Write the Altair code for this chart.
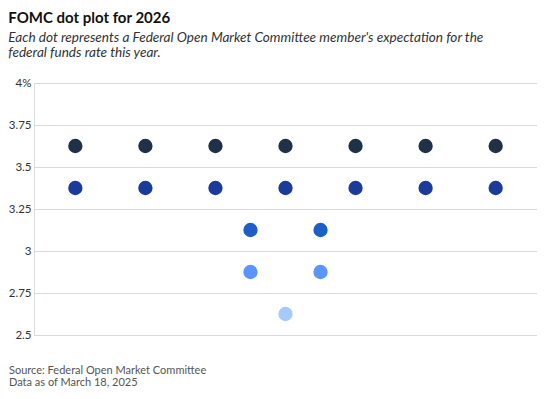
import altair as alt
import pandas as pd

# Data
rates = [3.625] * 7 + [3.375] * 7 + [3.125] * 2 + [2.875] * 2 + [2.625]
positions = [1, 2, 3, 4, 5, 6, 7,
             1, 2, 3, 4, 5, 6, 7,
             3.5, 4.5,
             3.5, 4.5,
             4]
rate_levels = [3.625, 3.375, 3.125, 2.875, 2.625]
level_colors = ["#1f3149", "#1b3b9b", "#1b5fc7", "#5b95fc", "#a5cafe"]
y_ticks = [2.5, 2.75, 3, 3.25, 3.5, 3.75, 4]
source_lines = ["Source: Federal Open Market Committee", "Data as of March 18, 2025"]

FONT = "Lato"

df = pd.DataFrame({"pos": positions, "rate": rates})

dots = alt.Chart(df).mark_circle(size=205, opacity=1).encode(
    x=alt.X("pos:Q", scale=alt.Scale(domain=[0.41, 7.59], nice=False), axis=None),
    y=alt.Y(
        "rate:Q",
        scale=alt.Scale(domain=[2.5, 4], nice=False, zero=False),
        axis=alt.Axis(
            values=y_ticks,
            title=None,
            domain=False,
            ticks=False,
            labelPadding=3,
            labelFontSize=11.5,
            labelColor="#333333",
            labelFont=FONT,
            gridColor="#d9d9d9",
            gridWidth=1,
            labelExpr="datum.value == 4 ? '4%' : format(datum.value, '~g')",
        ),
    ),
    color=alt.Color(
        "rate:O",
        scale=alt.Scale(domain=rate_levels, range=level_colors),
        legend=None,
    ),
)

src = pd.DataFrame({"line": source_lines, "i": [0, 1]})
source = alt.Chart(src).transform_calculate(
    yy="291 + 12 * datum.i"
).mark_text(
    align="left", baseline="alphabetic", fontSize=11, font=FONT, color="#555555"
).encode(
    text="line:N",
    x=alt.value(-25),
    y=alt.Y("yy:Q", scale=None, axis=None),
)

chart = alt.layer(dots, source).resolve_scale(y="independent").properties(
    width=503,
    height=252,
    padding={"left": 0, "top": 3, "right": 0, "bottom": 0},
    title=alt.TitleParams(
        text="FOMC dot plot for 2026",
        subtitle=[
            "Each dot represents a Federal Open Market Committee member's expectation for the",
            "federal funds rate this year.",
        ],
        anchor="start",
        frame="bounds",
        font=FONT,
        fontSize=15,
        fontWeight="bold",
        color="#111111",
        subtitleFont=FONT,
        subtitleFontSize=13.6,
        subtitleFontStyle="italic",
        subtitleColor="#333333",
        subtitlePadding=5,
        subtitleLineHeight=15,
        offset=17,
    ),
).configure_view(stroke=None).configure(background="white")

chart.save("out.html", embed_options={"renderer": "svg", "actions": False})
